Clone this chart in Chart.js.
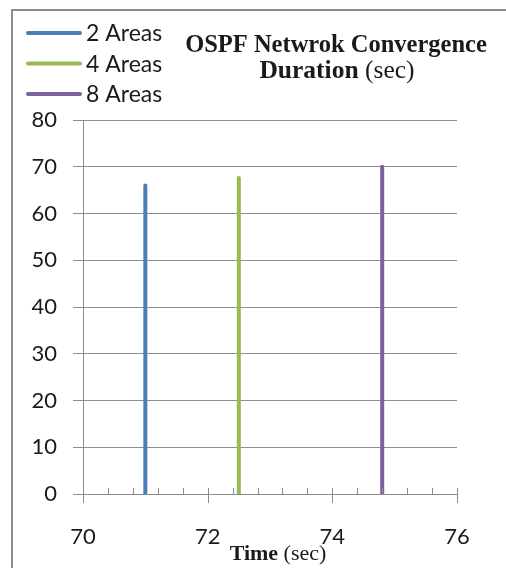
<!DOCTYPE html>
<html>
<head>
<meta charset="utf-8">
<style>
  html, body { margin: 0; padding: 0; background: #fff; }
  #wrap { position: relative; width: 506px; height: 568px; }
</style>
<script src="https://cdn.jsdelivr.net/npm/chart.js@4.4.1/dist/chart.umd.min.js"></script>
</head>
<body>
<div id="wrap"><canvas id="c" width="506" height="568"></canvas></div>
<script>
// Convergence events: when each network finished converging and how long it took
const seriesNames = ['2 Areas', '4 Areas', '8 Areas'];
const convergenceTimes = [71, 72.5, 74.8];      // seconds (x)
const convergenceDurations = [66, 67.6, 70];    // seconds (y)
const seriesColors = ['#4a7ebb', '#98b954', '#7d60a0'];

const xTickValues = [70, 72, 74, 76];
const yTickValues = [0, 10, 20, 30, 40, 50, 60, 70, 80];

const titleLines = [
  [{ t: 'OSPF Netwrok Convergence', bold: true }],
  [{ t: 'Duration ', bold: true }, { t: '(sec)', bold: false }]
];
const xTitleParts = [{ t: 'Time ', bold: true }, { t: '(sec)', bold: false }];

const AXIS_GRAY = '#8c8c8c';
const TEXT = '#1a1a1a';
const SANS = 'Lato, "Open Sans", sans-serif';
const SERIF = '"Liberation Serif", "Times New Roman", serif';

const datasets = seriesNames.map((name, i) => ({
  label: name,
  data: [
    { x: convergenceTimes[i], y: 0 },
    { x: convergenceTimes[i], y: convergenceDurations[i] }
  ],
  borderColor: seriesColors[i],
  backgroundColor: seriesColors[i],
  borderWidth: 4,
  borderCapStyle: 'round',
  pointRadius: 0,
  fill: false,
  tension: 0
}));

function drawMixed(ctx, parts, cx, baseline, size) {
  const fontOf = p => (p.bold ? 'bold ' : '') + size + 'px ' + SERIF;
  let total = 0;
  parts.forEach(p => { ctx.font = fontOf(p); total += ctx.measureText(p.t).width; });
  let x = cx - total / 2;
  ctx.textAlign = 'left';
  ctx.textBaseline = 'alphabetic';
  parts.forEach(p => {
    ctx.font = fontOf(p);
    ctx.fillText(p.t, x, baseline);
    x += ctx.measureText(p.t).width;
  });
}

const decorations = {
  id: 'decorations',
  beforeDraw(chart) {
    const ctx = chart.ctx;
    ctx.save();
    // outer chart frame
    ctx.strokeStyle = AXIS_GRAY;
    ctx.lineWidth = 2;
    ctx.beginPath();
    ctx.moveTo(12, 568);
    ctx.lineTo(12, 10);
    ctx.lineTo(506, 10);
    ctx.stroke();
    ctx.restore();
  },
  afterDraw(chart) {
    const ctx = chart.ctx;
    const xs = chart.scales.x;
    const ys = chart.scales.y;
    ctx.save();

    // x-axis tick marks: majors cross the axis, minors sit above it
    const axisY = ys.getPixelForValue(0);
    ctx.strokeStyle = AXIS_GRAY;
    ctx.lineWidth = 1;
    const minorStep = 0.4;
    const n = Math.round((xs.max - xs.min) / minorStep);
    for (let k = 0; k <= n; k++) {
      const v = xs.min + k * minorStep;
      const px = Math.round(xs.getPixelForValue(v)) + 0.5;
      const major = k % 5 === 0;
      ctx.beginPath();
      ctx.moveTo(px, axisY - 6);
      ctx.lineTo(px, axisY + (major ? 9 : 1));
      ctx.stroke();
    }

    // title
    ctx.fillStyle = TEXT;
    drawMixed(ctx, titleLines[0], 336, 52, 24.5);
    drawMixed(ctx, titleLines[1], 337, 78, 25.5);

    // x-axis title
    drawMixed(ctx, xTitleParts, 278, 560, 22);

    // legend
    chart.data.datasets.forEach((ds, i) => {
      const y = 33 + i * 30.5;
      ctx.strokeStyle = ds.borderColor;
      ctx.lineWidth = 4;
      ctx.lineCap = 'round';
      ctx.beginPath();
      ctx.moveTo(28, y);
      ctx.lineTo(80, y);
      ctx.stroke();
      ctx.fillStyle = TEXT;
      ctx.font = '23px ' + SANS;
      ctx.textAlign = 'left';
      ctx.textBaseline = 'middle';
      ctx.fillText(ds.label, 86, y + 1);
    });
    ctx.restore();
  }
};

new Chart(document.getElementById('c'), {
  type: 'line',
  data: { datasets },
  options: {
    responsive: false,
    animation: false,
    devicePixelRatio: 1,
    layout: { padding: { top: 120, right: 49, left: 0, bottom: 0 } },
    plugins: {
      legend: { display: false },
      title: { display: false },
      tooltip: { enabled: false }
    },
    scales: {
      x: {
        type: 'linear',
        min: xTickValues[0],
        max: xTickValues[xTickValues.length - 1],
        afterBuildTicks(scale) { scale.ticks = xTickValues.map(v => ({ value: v })); },
        afterFit(scale) { scale.height = 74; },
        grid: { display: false },
        border: { display: true, color: AXIS_GRAY, width: 1 },
        ticks: { padding: 22, color: TEXT, font: { family: SANS, size: 22 } }
      },
      y: {
        type: 'linear',
        min: yTickValues[0],
        max: yTickValues[yTickValues.length - 1],
        afterBuildTicks(scale) { scale.ticks = yTickValues.map(v => ({ value: v })); },
        afterFit(scale) { scale.width = 83; },
        grid: { color: AXIS_GRAY, lineWidth: 1, drawTicks: true, tickLength: 10 },
        border: { display: true, color: AXIS_GRAY, width: 1 },
        ticks: { padding: 16, color: TEXT, font: { family: SANS, size: 22 } }
      }
    }
  },
  plugins: [decorations]
});
</script>
</body>
</html>
